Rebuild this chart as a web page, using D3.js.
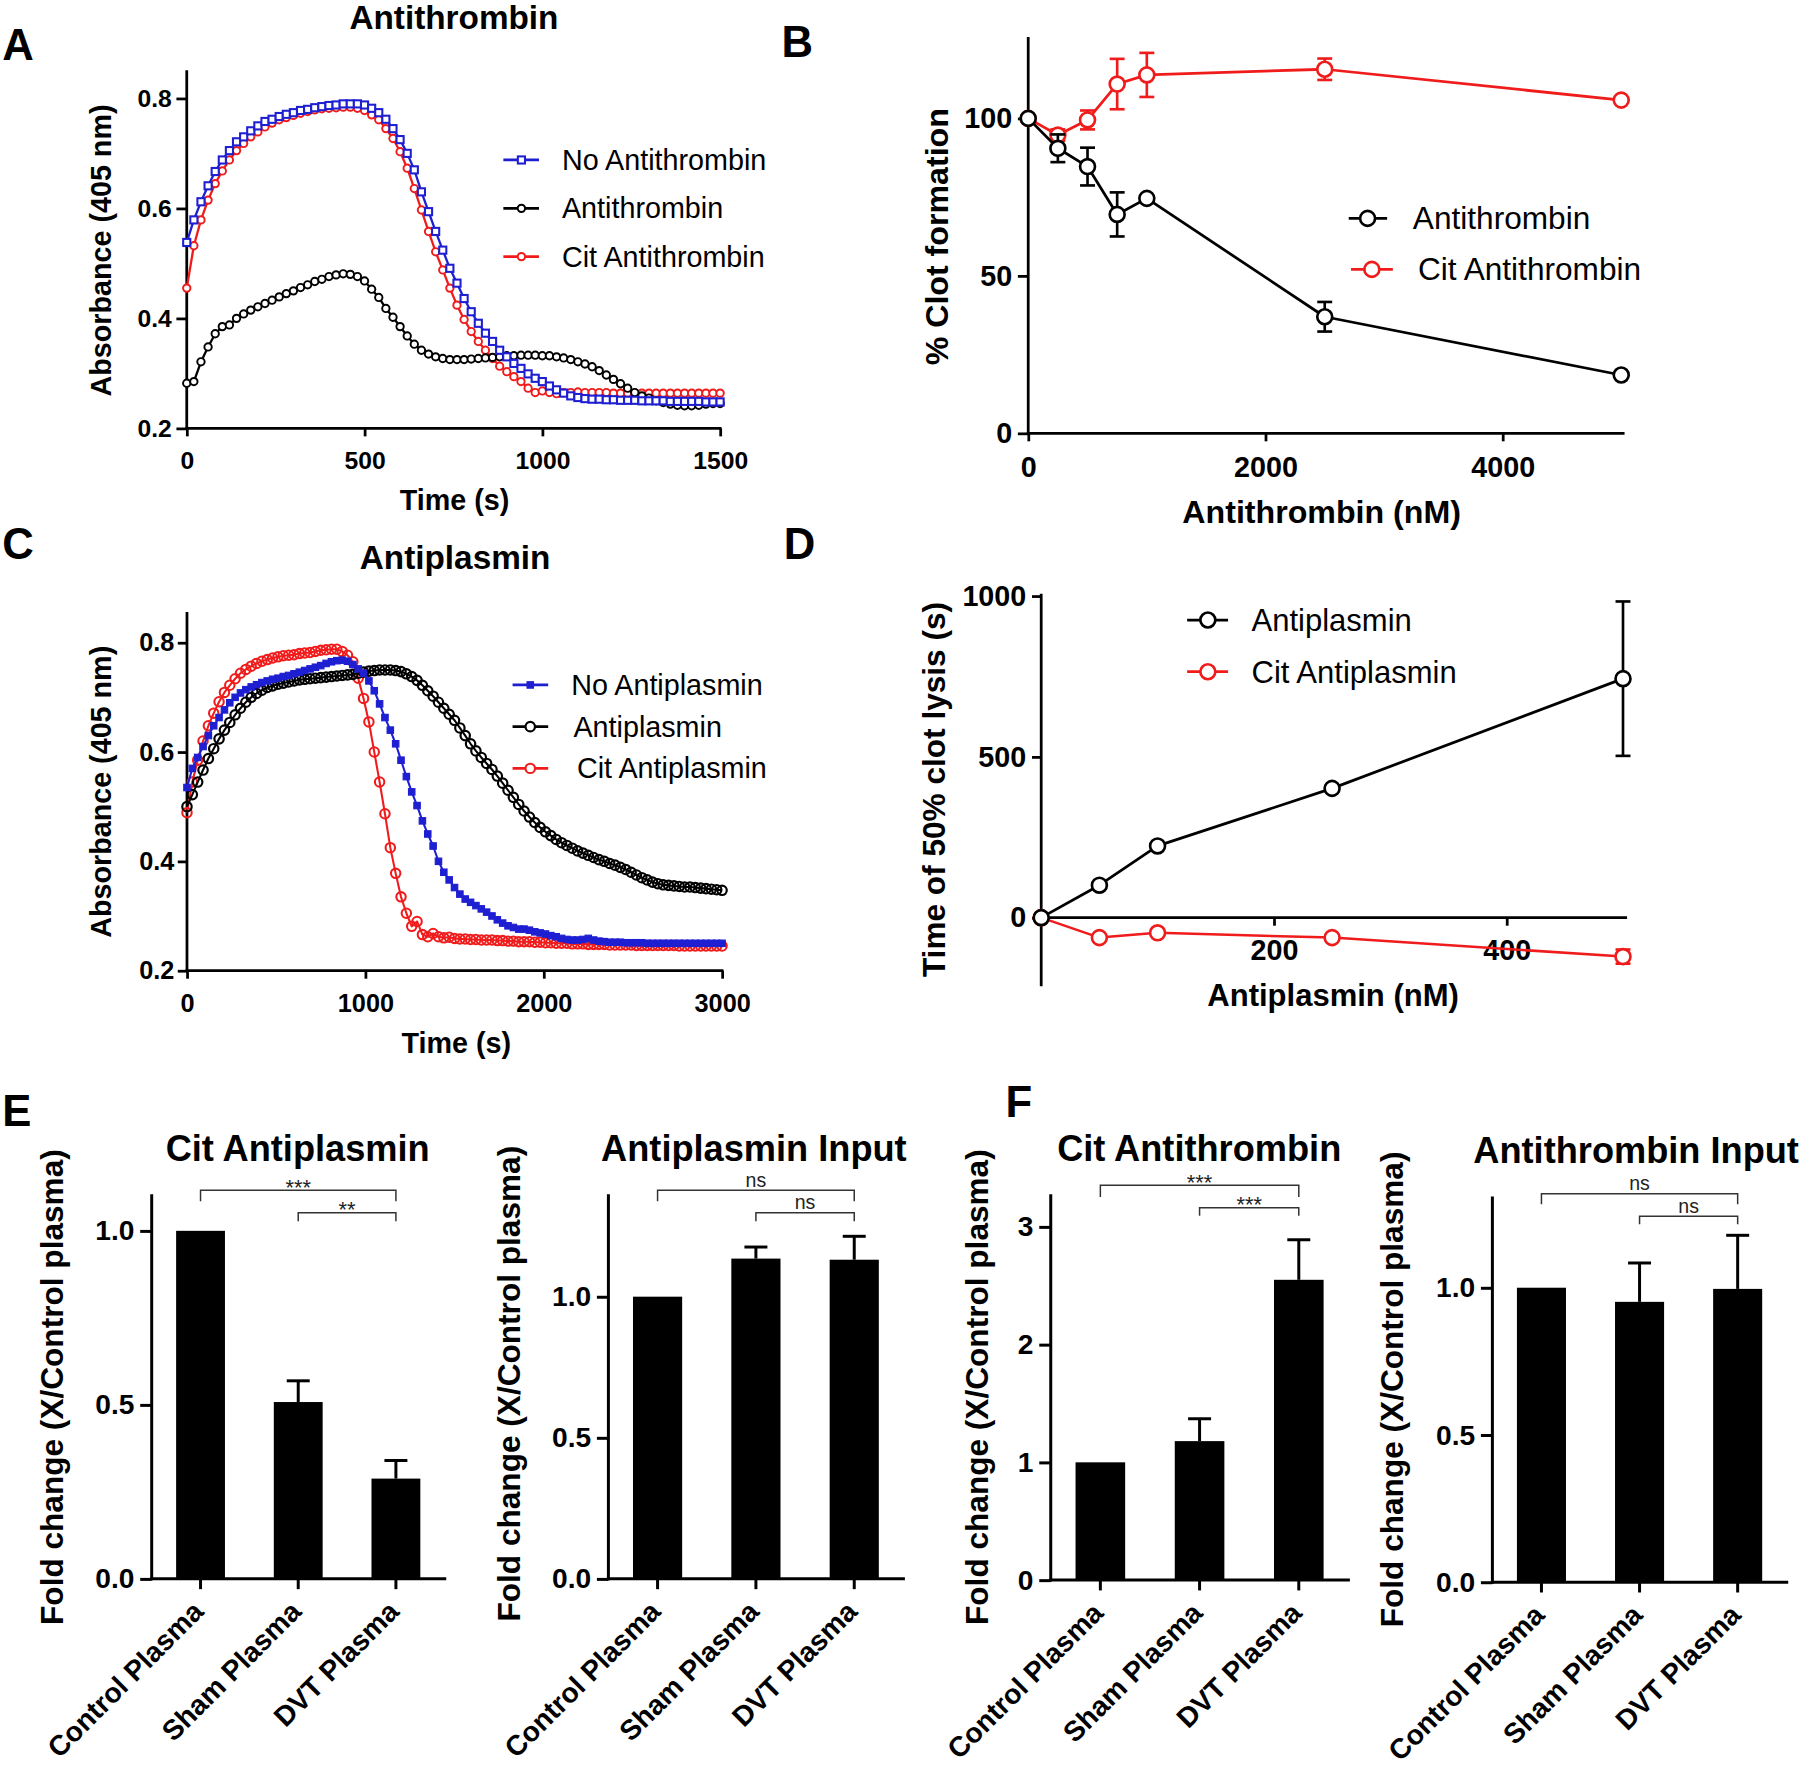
<!DOCTYPE html>
<html><head><meta charset="utf-8">
<script src="https://cdn.jsdelivr.net/npm/d3@7"></script>
<style>body{margin:0;background:#fff} text{font-family:'Liberation Sans',Arial,Helvetica,sans-serif}</style>
</head><body>
<script>
// ---------------- DATA ----------------
const timeA = [0,20,40,60,80,100,120,140,160,180,200,220,240,260,280,300,320,340,360,380,400,420,440,460,480,500,520,540,560,580,600,620,640,660,680,700,720,740,760,780,800,820,840,860,880,900,920,940,960,980,1000,1020,1040,1060,1080,1100,1120,1140,1160,1180,1200,1220,1240,1260,1280,1300,1320,1340,1360,1380,1400,1420,1440,1460,1480,1500];
const noAntithrombin = [0.538,0.579,0.612,0.641,0.667,0.688,0.705,0.721,0.730,0.741,0.750,0.758,0.762,0.767,0.771,0.774,0.778,0.780,0.783,0.785,0.787,0.788,0.790,0.790,0.790,0.788,0.782,0.774,0.762,0.745,0.725,0.700,0.670,0.630,0.594,0.558,0.524,0.491,0.464,0.436,0.412,0.391,0.373,0.358,0.342,0.330,0.318,0.309,0.299,0.291,0.285,0.277,0.270,0.264,0.259,0.256,0.254,0.253,0.253,0.252,0.252,0.251,0.251,0.251,0.250,0.250,0.250,0.250,0.249,0.249,0.249,0.249,0.249,0.248,0.248,0.248];
const antithrombinA = [0.282,0.285,0.321,0.348,0.372,0.385,0.388,0.400,0.408,0.415,0.421,0.427,0.433,0.439,0.445,0.450,0.456,0.461,0.467,0.471,0.476,0.479,0.481,0.480,0.476,0.468,0.453,0.438,0.418,0.402,0.385,0.368,0.353,0.342,0.335,0.330,0.327,0.325,0.325,0.325,0.326,0.327,0.328,0.329,0.330,0.332,0.332,0.333,0.333,0.333,0.332,0.332,0.330,0.328,0.325,0.321,0.317,0.312,0.305,0.297,0.289,0.281,0.273,0.265,0.259,0.255,0.250,0.247,0.244,0.242,0.241,0.241,0.242,0.244,0.245,0.245];
const citAntithrombinA = [0.455,0.532,0.579,0.615,0.645,0.668,0.688,0.705,0.718,0.730,0.739,0.748,0.755,0.761,0.765,0.769,0.773,0.776,0.779,0.781,0.782,0.783,0.784,0.784,0.782,0.778,0.770,0.761,0.745,0.727,0.703,0.673,0.636,0.597,0.558,0.521,0.488,0.455,0.424,0.398,0.376,0.358,0.342,0.327,0.313,0.303,0.294,0.285,0.273,0.265,0.268,0.265,0.263,0.265,0.265,0.266,0.265,0.265,0.265,0.265,0.264,0.264,0.264,0.264,0.264,0.264,0.264,0.264,0.264,0.264,0.264,0.264,0.264,0.264,0.264,0.264];

const timeC = [0,30,60,90,120,150,180,210,240,270,300,330,360,390,420,450,480,510,540,570,600,630,660,690,720,750,780,810,840,870,900,930,960,990,1020,1050,1080,1110,1140,1170,1200,1230,1260,1290,1320,1350,1380,1410,1440,1470,1500,1530,1560,1590,1620,1650,1680,1710,1740,1770,1800,1830,1860,1890,1920,1950,1980,2010,2040,2070,2100,2130,2160,2190,2220,2250,2280,2310,2340,2370,2400,2430,2460,2490,2520,2550,2580,2610,2640,2670,2700,2730,2760,2790,2820,2850,2880,2910,2940,2970,3000];
const noAntiplasmin = [0.535,0.570,0.590,0.610,0.630,0.648,0.663,0.677,0.690,0.700,0.708,0.714,0.719,0.723,0.727,0.730,0.733,0.735,0.738,0.740,0.743,0.746,0.749,0.752,0.755,0.758,0.762,0.765,0.767,0.768,0.766,0.760,0.752,0.744,0.730,0.712,0.688,0.663,0.640,0.615,0.585,0.555,0.527,0.502,0.474,0.450,0.428,0.400,0.380,0.366,0.352,0.340,0.331,0.325,0.319,0.313,0.307,0.300,0.293,0.287,0.282,0.279,0.276,0.276,0.274,0.271,0.269,0.267,0.264,0.262,0.259,0.257,0.256,0.256,0.257,0.259,0.256,0.254,0.253,0.252,0.252,0.252,0.251,0.251,0.251,0.251,0.250,0.250,0.250,0.250,0.250,0.250,0.250,0.250,0.250,0.250,0.250,0.250,0.250,0.250,0.250];
const antiplasminC = [0.500,0.522,0.545,0.567,0.588,0.606,0.624,0.640,0.654,0.668,0.680,0.691,0.700,0.707,0.713,0.718,0.721,0.724,0.726,0.728,0.730,0.732,0.733,0.734,0.735,0.736,0.737,0.738,0.739,0.740,0.741,0.742,0.744,0.746,0.748,0.749,0.750,0.750,0.750,0.749,0.747,0.743,0.738,0.731,0.722,0.712,0.702,0.691,0.680,0.669,0.658,0.644,0.630,0.615,0.602,0.590,0.579,0.568,0.556,0.543,0.530,0.517,0.504,0.492,0.481,0.471,0.462,0.454,0.447,0.440,0.434,0.429,0.424,0.419,0.415,0.411,0.407,0.403,0.400,0.396,0.393,0.389,0.385,0.380,0.375,0.370,0.366,0.362,0.359,0.357,0.356,0.355,0.354,0.353,0.353,0.352,0.351,0.350,0.349,0.348,0.347];
const citAntiplasminC = [0.489,0.545,0.585,0.620,0.648,0.671,0.692,0.709,0.722,0.734,0.744,0.751,0.757,0.762,0.766,0.769,0.772,0.774,0.776,0.777,0.778,0.780,0.781,0.782,0.784,0.786,0.787,0.788,0.788,0.784,0.777,0.765,0.735,0.698,0.655,0.600,0.545,0.487,0.425,0.378,0.335,0.305,0.281,0.290,0.266,0.262,0.268,0.262,0.260,0.261,0.259,0.258,0.258,0.257,0.257,0.256,0.256,0.256,0.255,0.255,0.254,0.254,0.253,0.253,0.253,0.252,0.252,0.251,0.251,0.250,0.250,0.250,0.249,0.249,0.249,0.248,0.248,0.248,0.248,0.247,0.247,0.247,0.247,0.247,0.246,0.246,0.246,0.246,0.246,0.246,0.246,0.246,0.245,0.245,0.245,0.245,0.245,0.245,0.245,0.245,0.245];

const concB = [0,250,500,750,1000,2500,5000];
const clotAT = [100,90.5,84.7,69.5,74.6,37,18.5];
const clotATerr = [0,4.4,6,7,0,4.7,0];
const clotCitAT = [100,94.7,99.5,110.9,113.8,115.6,105.8];
const clotCitATerr = [0,1.8,3,8,7,3.4,0];

const concD = [0,50,100,250,500];
const lysisAP = [0,101,223,402,743];
const lysisAPerr = [0,0,0,0,240];
const lysisCitAP = [0,-62,-47,-62,-121];
const lysisCitAPerr = [0,0,0,0,22];

const groups = ["Control Plasma","Sham Plasma","DVT Plasma"];
const citAntiplasminFold = [1.0,0.508,0.288];
const citAntiplasminFoldErr = [0,0.061,0.052];
const antiplasminInputFold = [1.0,1.135,1.131];
const antiplasminInputFoldErr = [0,0.041,0.083];
const citAntithrombinFold = [1.0,1.18,2.55];
const citAntithrombinFoldErr = [0,0.19,0.34];
const antithrombinInputFold = [1.0,0.952,0.996];
const antithrombinInputFoldErr = [0,0.132,0.182];

const ticksA_y = [0.2,0.4,0.6,0.8], ticksA_x = [0,500,1000,1500];
const ticksB_y = [0,50,100], ticksB_x = [0,2000,4000];
const ticksC_y = [0.2,0.4,0.6,0.8], ticksC_x = [0,1000,2000,3000];
const ticksD_y = [0,500,1000], ticksD_x = [200,400];

// ---------------- SETUP ----------------
const BLUE = '#1f1fd2', RED = '#f01c1c', BLK = '#000';
const K = 1802/1568;
const svg = d3.select('body').append('svg').attr('width',1802).attr('height',1766).style('display','block');
svg.append('rect').attr('width',1802).attr('height',1766).attr('fill','#fff');
const root = svg.append('g').attr('transform',`scale(${K})`);

function txt(g,x,y,s,o={}){
  const t=g.append('text').attr('x',x).attr('y',y).text(s)
    .attr('font-size',o.size||20).attr('font-weight',o.bold?'bold':'normal')
    .attr('text-anchor',o.anchor||'start').attr('fill',o.fill||'#000');
  if(o.dy) t.attr('dy',o.dy);
  if(o.rotate) t.attr('transform',`rotate(${o.rotate},${x},${y})`);
  return t;
}
function vline(g,x,y1,y2,w,c){g.append('line').attr('x1',x).attr('x2',x).attr('y1',y1).attr('y2',y2).attr('stroke',c||'#000').attr('stroke-width',w).attr('stroke-linecap','square');}
function hline(g,y,x1,x2,w,c){g.append('line').attr('x1',x1).attr('x2',x2).attr('y1',y).attr('y2',y).attr('stroke',c||'#000').attr('stroke-width',w).attr('stroke-linecap','square');}

function styleAxis(a,size,w,bold){
  a.select('.domain').remove();
  a.selectAll('line').attr('stroke','#000').attr('stroke-width',w);
  a.selectAll('text').attr('font-size',size).attr('font-weight',bold?'bold':'normal').attr('fill','#000')
    .attr('font-family',"'Liberation Sans',Arial,sans-serif");
}
function yAxis(g,scale,x,ticks,fmt,o){
  const a=g.append('g').attr('transform',`translate(${x},0)`)
    .call(d3.axisLeft(scale).tickValues(ticks).tickFormat(fmt).tickSize(o.tick).tickPadding(o.pad).tickSizeOuter(0));
  styleAxis(a,o.size,o.w,true);
  vline(g,x,o.top,o.bottom,o.w);
}
function xAxis(g,scale,y,ticks,fmt,o){
  const a=g.append('g').attr('transform',`translate(0,${y})`)
    .call(d3.axisBottom(scale).tickValues(ticks).tickFormat(fmt).tickSize(o.tick).tickPadding(o.pad).tickSizeOuter(0));
  styleAxis(a,o.size,o.w,true);
  hline(g,y,o.left,o.right,o.w);
}
function drawMarkers(g,pts,type,color,sz,sw,fill){
  if(type==='circle'){
    g.selectAll(null).data(pts).join('circle').attr('cx',d=>d[0]).attr('cy',d=>d[1]).attr('r',sz)
      .attr('fill',fill).attr('stroke',color).attr('stroke-width',sw);
  } else {
    g.selectAll(null).data(pts).join('rect').attr('x',d=>d[0]-sz/2).attr('y',d=>d[1]-sz/2).attr('width',sz).attr('height',sz)
      .attr('fill',type==='fsquare'?color:fill).attr('stroke',color).attr('stroke-width',sw);
  }
}
function series(g,xs,ys,x,y,st){
  const pts=xs.map((t,i)=>[x(t),y(ys[i])]);
  g.append('path').attr('d',d3.line()(pts)).attr('fill','none').attr('stroke',st.color).attr('stroke-width',st.lw).attr('stroke-linejoin','round');
  if(st.err){
    xs.forEach((t,i)=>{ if(st.err[i]>0){
      const cx=x(t), y1=y(ys[i]+st.err[i]), y2=y(ys[i]-st.err[i]);
      g.append('line').attr('x1',cx).attr('x2',cx).attr('y1',y1).attr('y2',y2).attr('stroke',st.color).attr('stroke-width',st.ew);
      [y1,y2].forEach(yy=>g.append('line').attr('x1',cx-st.cap/2).attr('x2',cx+st.cap/2).attr('y1',yy).attr('y2',yy).attr('stroke',st.color).attr('stroke-width',st.ew));
    }});
  }
  drawMarkers(g,pts,st.marker,st.color,st.size,st.sw,st.fill);
}
function legend(g,items,o){
  items.forEach(it=>{
    g.append('line').attr('x1',it.l1).attr('x2',it.l2).attr('y1',it.y).attr('y2',it.y).attr('stroke',it.st.color).attr('stroke-width',o.lw);
    drawMarkers(g,[[it.mx,it.y]],it.st.marker,it.st.color,it.st.size,it.st.sw,'#fff');
    txt(g,it.tx,it.y,it.name,{size:o.size,dy:'0.35em'});
  });
}

// ---------------- PANEL LETTERS ----------------
[['A',2,52],['B',680,50],['C',2,486],['D',682,486],['E',2,980],['F',875,972]].forEach(d=>txt(root,d[1],d[2],d[0],{size:38,bold:true}));

// ---------------- PANEL A ----------------
{
  const g=root.append('g');
  const x=d3.scaleLinear().domain([0,1500]).range([162.5,626.6]);
  const y=d3.scaleLinear().domain([0.2,0.8]).range([372.7,85.6]);
  txt(g,395,25,'Antithrombin',{size:29,bold:true,anchor:'middle'});
  yAxis(g,y,x(0),ticksA_y,d3.format('.1f'),{tick:9,pad:4,size:21.5,w:2.4,top:62.4,bottom:y(0.2)});
  xAxis(g,x,y(0.2),ticksA_x,d3.format('d'),{tick:7,pad:13.5,size:21.5,w:2.4,left:x(0),right:x(1500)});
  txt(g,395.5,444,'Time (s)',{size:25,bold:true,anchor:'middle'});
  txt(g,89,218,'Absorbance (405 nm)',{size:25,bold:true,anchor:'middle',rotate:-90,dy:'0.3em'});
  const sR={color:RED,lw:2,marker:'circle',size:3.2,sw:1.7,fill:'#fff'};
  const sK={color:BLK,lw:2,marker:'circle',size:3.2,sw:1.7,fill:'#fff'};
  const sB={color:BLUE,lw:2,marker:'square',size:6.2,sw:1.8,fill:'#fff'};
  series(g,timeA,citAntithrombinA,x,y,sR);
  series(g,timeA,antithrombinA,x,y,sK);
  series(g,timeA,noAntithrombin,x,y,sB);
  legend(g,[
    {name:'No Antithrombin',st:sB,y:139.2,l1:438,l2:469,mx:453.7,tx:489},
    {name:'Antithrombin',st:sK,y:181.3,l1:438,l2:469,mx:453.7,tx:489},
    {name:'Cit Antithrombin',st:sR,y:223.3,l1:438,l2:469,mx:453.7,tx:489}
  ],{lw:2.4,size:25});
}

// ---------------- PANEL B ----------------
{
  const g=root.append('g');
  const x=d3.scaleLinear().domain([0,4000]).range([894.7,1307.5]);
  const y=d3.scaleLinear().domain([0,100]).range([377,103]);
  yAxis(g,y,x(0),ticksB_y,d3.format('d'),{tick:9,pad:5,size:25,w:2.4,top:33.4,bottom:y(0)});
  xAxis(g,x,y(0),ticksB_x,d3.format('d'),{tick:7,pad:13,size:25,w:2.4,left:x(0),right:1412.4});
  txt(g,1150,455,'Antithrombin (nM)',{size:28,bold:true,anchor:'middle'});
  txt(g,815,206,'% Clot formation',{size:28,bold:true,anchor:'middle',rotate:-90,dy:'0.36em'});
  const sR={color:RED,lw:2.4,marker:'circle',size:6.5,sw:2.3,fill:'#fff',err:clotCitATerr,ew:2.3,cap:13};
  const sK={color:BLK,lw:2.4,marker:'circle',size:6.5,sw:2.3,fill:'#fff',err:clotATerr,ew:2.3,cap:13};
  series(g,concB,clotCitAT,x,y,sR);
  series(g,concB,clotAT,x,y,sK);
  legend(g,[
    {name:'Antithrombin',st:sK,y:190,l1:1173.6,l2:1207,mx:1190,tx:1229.4},
    {name:'Cit Antithrombin',st:sR,y:234.4,l1:1175.6,l2:1212,mx:1193.7,tx:1233.9}
  ],{lw:2.4,size:27.5});
}

// ---------------- PANEL C ----------------
{
  const g=root.append('g');
  const x=d3.scaleLinear().domain([0,3000]).range([162.7,628.3]);
  const y=d3.scaleLinear().domain([0.2,0.8]).range([844.6,559.2]);
  txt(g,396,495,'Antiplasmin',{size:29,bold:true,anchor:'middle'});
  yAxis(g,y,x(0),ticksC_y,d3.format('.1f'),{tick:8,pad:3,size:22,w:2.4,top:533.7,bottom:y(0.2)});
  xAxis(g,x,y(0.2),ticksC_x,d3.format('d'),{tick:7,pad:13,size:22,w:2.4,left:x(0),right:x(3000)});
  txt(g,397,916,'Time (s)',{size:25,bold:true,anchor:'middle'});
  txt(g,89,689,'Absorbance (405 nm)',{size:25,bold:true,anchor:'middle',rotate:-90,dy:'0.3em'});
  const sR={color:RED,lw:1.8,marker:'circle',size:4.1,sw:1.8,fill:'none'};
  const sK={color:BLK,lw:1.8,marker:'circle',size:4.1,sw:1.9,fill:'none'};
  const sB={color:BLUE,lw:1.8,marker:'fsquare',size:5.6,sw:1,fill:BLUE};
  series(g,timeC,citAntiplasminC,x,y,sR);
  series(g,timeC,antiplasminC,x,y,sK);
  series(g,timeC,noAntiplasmin,x,y,sB);
  legend(g,[
    {name:'No Antiplasmin',st:sB,y:596,l1:446,l2:477,mx:461.4,tx:497},
    {name:'Antiplasmin',st:sK,y:632.3,l1:446,l2:477,mx:461.4,tx:499},
    {name:'Cit Antiplasmin',st:sR,y:668.6,l1:446,l2:477,mx:461.4,tx:502}
  ],{lw:2.4,size:25});
}

// ---------------- PANEL D ----------------
{
  const g=root.append('g');
  const x=d3.scaleLinear().domain([0,400]).range([906,1311]);
  const y=d3.scaleLinear().domain([0,1000]).range([798.5,518.6]);
  yAxis(g,y,x(0),ticksD_y,d3.format('d'),{tick:8,pad:5,size:25,w:2.4,top:517.8,bottom:857});
  xAxis(g,x,y(0),ticksD_x,d3.format('d'),{tick:7,pad:12,size:25,w:2.4,left:x(0),right:1414.6});
  txt(g,1160,875,'Antiplasmin (nM)',{size:27,bold:true,anchor:'middle'});
  txt(g,814.4,687,'Time of 50% clot lysis (s)',{size:27.5,bold:true,anchor:'middle',rotate:-90,dy:'0.3em'});
  const sR={color:RED,lw:2.2,marker:'circle',size:6.5,sw:2.3,fill:'#fff',err:lysisCitAPerr,ew:2.3,cap:13};
  const sK={color:BLK,lw:2.4,marker:'circle',size:6.5,sw:2.3,fill:'#fff',err:lysisAPerr,ew:2.3,cap:13};
  series(g,concD,lysisCitAP,x,y,sR);
  series(g,concD,lysisAP,x,y,sK);
  legend(g,[
    {name:'Antiplasmin',st:sK,y:539.5,l1:1033,l2:1068.6,mx:1051,tx:1089},
    {name:'Cit Antiplasmin',st:sR,y:584.5,l1:1033,l2:1068.6,mx:1051,tx:1089}
  ],{lw:2.4,size:27});
}

// ---------------- PANELS E / F (bars) ----------------
const barPanels=[
  {title:'Cit Antiplasmin',vals:citAntiplasminFold,errs:citAntiplasminFoldErr,ticks:[0,0.5,1.0],fmt:'.1f',
   axisX:132,xEnd:387,y0:1373.8,refV:1,refP:1071,top:1040.5,titleX:259,titleY:1010.5,anchor:'middle',ylabX:46.4,ylabY:1207,
   sig:[{a:0,b:2,y:1035.7,leg:9.6,label:'***'},{a:1,b:2,y:1055.3,leg:7.4,label:'**'}]},
  {title:'Antiplasmin Input',vals:antiplasminInputFold,errs:antiplasminInputFoldErr,ticks:[0,0.5,1.0],fmt:'.1f',
   axisX:529.4,xEnd:786.1,y0:1373.8,refV:1,refP:1128.3,top:1040.5,titleX:656,titleY:1010,anchor:'middle',ylabX:443.8,ylabY:1204,
   sig:[{a:0,b:2,y:1035.7,leg:9.6,label:'ns'},{a:1,b:2,y:1055.3,leg:7.4,label:'ns'}]},
  {title:'Cit Antithrombin',vals:citAntithrombinFold,errs:citAntithrombinFoldErr,ticks:[0,1,2,3],fmt:'d',
   axisX:914.3,xEnd:1173.3,y0:1374.9,refV:3,refP:1067.5,top:1040.5,titleX:1043.5,titleY:1010,anchor:'middle',ylabX:851.4,ylabY:1207,
   sig:[{a:0,b:2,y:1031.3,leg:10.3,label:'***'},{a:1,b:2,y:1050.9,leg:7,label:'***'}]},
  {title:'Antithrombin Input',vals:antithrombinInputFold,errs:antithrombinInputFoldErr,ticks:[0,0.5,1.0],fmt:'.1f',
   axisX:1298.6,xEnd:1554.7,y0:1376.7,refV:1,refP:1120.5,top:1042.4,titleX:1282,titleY:1012,anchor:'start',ylabX:1212.4,ylabY:1209,
   sig:[{a:0,b:2,y:1038.7,leg:9.2,label:'ns'},{a:1,b:2,y:1058.3,leg:7,label:'ns'}]}
];
barPanels.forEach(c=>{
  const g=root.append('g');
  const y=d3.scaleLinear().domain([0,c.refV]).range([c.y0,c.refP]);
  const x=d3.scaleBand().domain(groups).range([c.axisX,c.xEnd]).paddingInner(0.5).paddingOuter(0.25);
  const cx=i=>x(groups[i])+x.bandwidth()/2;
  // bars
  g.selectAll(null).data(c.vals).join('rect')
    .attr('x',(d,i)=>x(groups[i])).attr('y',d=>y(d)).attr('width',x.bandwidth()).attr('height',d=>y(0)-y(d)).attr('fill','#000');
  // error bars
  c.vals.forEach((v,i)=>{ if(c.errs[i]>0){
    const xx=cx(i), yt=y(v+c.errs[i]);
    g.append('line').attr('x1',xx).attr('x2',xx).attr('y1',y(v)).attr('y2',yt).attr('stroke','#000').attr('stroke-width',2.6);
    g.append('line').attr('x1',xx-10).attr('x2',xx+10).attr('y1',yt).attr('y2',yt).attr('stroke','#000').attr('stroke-width',2.6);
  }});
  // axes
  const ya=g.append('g').attr('transform',`translate(${c.axisX},0)`)
    .call(d3.axisLeft(y).tickValues(c.ticks).tickFormat(d3.format(c.fmt)).tickSize(10).tickPadding(5).tickSizeOuter(0));
  styleAxis(ya,24.5,2.6,true);
  vline(g,c.axisX,c.top,c.y0,2.6);
  const xa=g.append('g').attr('transform',`translate(0,${c.y0})`)
    .call(d3.axisBottom(x).tickSize(9).tickFormat('').tickSizeOuter(0));
  styleAxis(xa,24,2.6,false);
  hline(g,c.y0,c.axisX,c.xEnd,2.6);
  // category labels
  groups.forEach((gr,i)=>{
    const px=cx(i)+4, py=c.y0+30;
    txt(g,px,py,gr,{size:24.5,bold:true,anchor:'end',rotate:-45});
  });
  // title & y label
  txt(g,c.titleX,c.titleY,c.title,{size:31.5,bold:true,anchor:c.anchor});
  txt(g,c.ylabX,c.ylabY,'Fold change (X/Control plasma)',{size:27.5,bold:true,anchor:'middle',rotate:-90,dy:'0.3em'});
  // significance brackets
  c.sig.forEach(s=>{
    const x1=cx(s.a), x2=cx(s.b);
    g.append('path').attr('d',`M${x1},${s.y+s.leg}V${s.y}H${x2}V${s.y+s.leg}`)
      .attr('fill','none').attr('stroke','#333').attr('stroke-width',1.3);
    const star=s.label.indexOf('*')>=0;
    txt(g,(x1+x2)/2,star?s.y+4:s.y-3,s.label,{size:star?19:17,anchor:'middle',fill:'#222'});
  });
});
</script>
</body></html>
